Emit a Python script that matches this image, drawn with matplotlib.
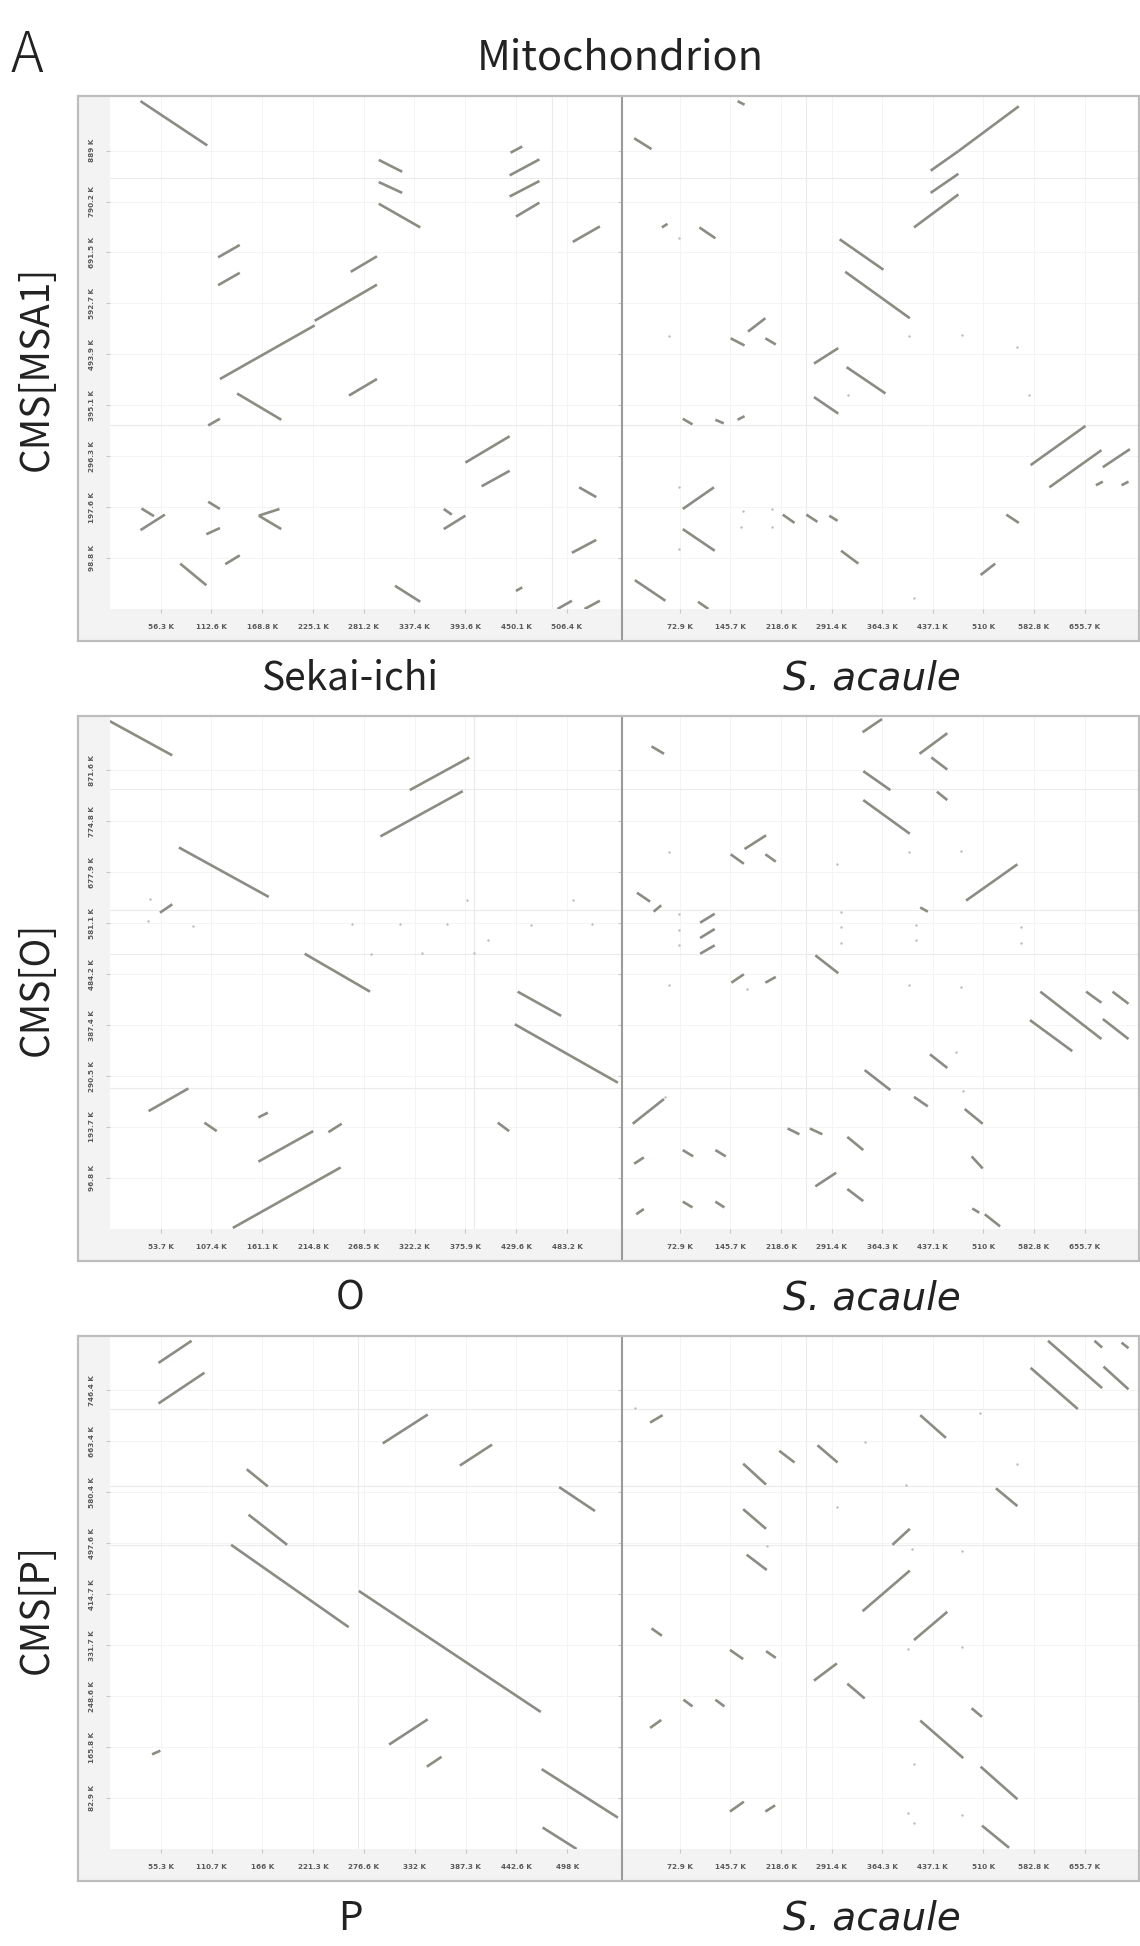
import matplotlib.pyplot as plt
from matplotlib.patches import Rectangle

W, H = 1140, 1946

# ---- tick values (K) ----
sekai_ticks = [56.3, 112.6, 168.8, 225.1, 281.2, 337.4, 393.6, 450.1, 506.4]
o_ticks = [53.7, 107.4, 161.1, 214.8, 268.5, 322.2, 375.9, 429.6, 483.2]
p_ticks = [55.3, 110.7, 166.0, 221.3, 276.6, 332.0, 387.3, 442.6, 498.0]
acaule_ticks = [72.9, 145.7, 218.6, 291.4, 364.3, 437.1, 510.0, 582.8, 655.7]
msa1_ticks = [98.8, 197.6, 296.3, 395.1, 493.9, 592.7, 691.5, 790.2, 889.0]
cmso_ticks = [96.8, 193.7, 290.5, 387.4, 484.2, 581.1, 677.9, 774.8, 871.6]
cmsp_ticks = [82.9, 165.8, 248.6, 331.7, 414.7, 497.6, 580.4, 663.4, 746.4]

# ---- alignments (x0, y0, x1, y1) in K ----
msa1_sekai = [
    (34, 985, 108, 899), (298, 871, 324, 848), (298, 828, 324, 807), (298, 786, 344, 740),
    (444, 885, 457, 897), (443, 841, 476, 872), (443, 800, 476, 830), (450, 761, 476, 788),
    (513, 712, 543, 742), (120, 682, 144, 706), (120, 628, 144, 652), (267, 654, 296, 684),
    (122, 446, 227, 550), (227, 559, 296, 629), (265, 414, 296, 446), (141, 418, 190, 367),
    (109, 356, 122, 369), (394, 284, 443, 335), (412, 238, 443, 268), (520, 236, 539, 217),
    (34, 153, 61, 183), (35, 195, 49, 180), (109, 208, 122, 194), (107, 145, 122, 157),
    (165, 181, 190, 155), (165, 181, 188, 194), (128, 87, 144, 104), (78, 88, 107, 46),
    (370, 155, 394, 181), (370, 194, 379, 183), (512, 109, 539, 134), (450, 35, 457, 42),
    (316, 45, 344, 14), (496, 0, 512, 16), (526, 0, 543, 16),
]
msa1_acaule = [
    (156, 985, 166, 978), (7, 913, 32, 892), (434, 850, 474, 888), (474, 888, 561, 975),
    (434, 807, 474, 844), (410, 740, 474, 804), (47, 740, 55, 747), (101, 740, 124, 719),
    (303, 717, 366, 658), (311, 654, 404, 564), (171, 538, 196, 564), (146, 525, 166, 511),
    (196, 525, 211, 513), (266, 476, 301, 506), (313, 469, 369, 418), (266, 411, 301, 379),
    (77, 369, 91, 358), (124, 367, 136, 360), (156, 367, 166, 374), (578, 279, 657, 355),
    (605, 236, 680, 308), (682, 275, 721, 310), (672, 240, 682, 247), (709, 240, 719, 247),
    (77, 194, 122, 236), (77, 155, 123, 113), (221, 183, 238, 167), (255, 183, 271, 169),
    (288, 181, 300, 171), (543, 183, 561, 167), (305, 113, 330, 88), (506, 66, 527, 88),
    (8, 56, 52, 16), (99, 14, 114, 0),
]
cmso_o = [
    (0, 965, 66, 900), (317, 834, 380, 896), (286, 746, 373, 832), (73, 725, 168, 631),
    (53, 601, 66, 617), (206, 523, 275, 451), (431, 451, 477, 405), (428, 389, 537, 278),
    (41, 224, 83, 267), (100, 202, 113, 186), (157, 212, 167, 221), (157, 128, 215, 186),
    (231, 184, 245, 200), (130, 2, 244, 117), (410, 202, 422, 186),
]
cmso_acaule = [
    (32, 917, 50, 903), (336, 944, 364, 969), (418, 903, 458, 942), (435, 896, 458, 873),
    (337, 870, 376, 834), (443, 831, 458, 815), (337, 815, 404, 751), (166, 722, 197, 748),
    (146, 712, 165, 694), (196, 712, 211, 698), (485, 624, 559, 693), (11, 639, 30, 622),
    (35, 603, 46, 615), (102, 582, 123, 599), (102, 553, 123, 570), (102, 523, 123, 539),
    (419, 611, 430, 603), (268, 520, 301, 486), (147, 468, 165, 484), (196, 468, 211, 479),
    (592, 451, 680, 361), (658, 451, 680, 430), (696, 451, 719, 428), (577, 397, 638, 338),
    (682, 399, 719, 361), (433, 332, 458, 306), (339, 302, 376, 264), (410, 251, 430, 233),
    (483, 228, 509, 200), (5, 200, 50, 247), (228, 191, 245, 180), (260, 191, 278, 180),
    (314, 175, 337, 150), (7, 124, 21, 136), (77, 150, 92, 138), (124, 150, 139, 138),
    (493, 138, 509, 115), (268, 81, 298, 107), (314, 76, 337, 53), (10, 28, 21, 38),
    (77, 52, 91, 41), (124, 52, 137, 41), (494, 39, 504, 31), (512, 28, 534, 5),
]
cmsp_p = [
    (53, 791, 89, 827), (53, 725, 103, 775), (297, 660, 346, 707), (381, 624, 416, 658),
    (149, 618, 172, 590), (489, 589, 528, 550), (151, 544, 193, 495), (132, 495, 260, 361),
    (271, 420, 469, 223), (304, 170, 346, 211), (345, 134, 361, 150), (46, 154, 55, 160),
    (470, 130, 553, 51), (471, 35, 508, 0),
]
cmsp_acaule = [
    (603, 827, 681, 750), (578, 783, 646, 716), (670, 827, 681, 816), (709, 824, 719, 815),
    (683, 785, 719, 748), (30, 694, 48, 706), (419, 706, 456, 669), (216, 648, 238, 629),
    (271, 657, 300, 629), (164, 627, 197, 593), (528, 587, 559, 558), (164, 553, 197, 521),
    (379, 495, 404, 521), (169, 479, 198, 454), (336, 387, 404, 453), (410, 340, 458, 386),
    (32, 359, 47, 347), (145, 324, 164, 309), (197, 322, 211, 311), (266, 274, 299, 302),
    (314, 269, 339, 245), (78, 243, 91, 232), (124, 243, 137, 232), (30, 197, 46, 210),
    (493, 229, 508, 215), (419, 209, 481, 148), (506, 134, 559, 81), (145, 61, 165, 77),
    (196, 61, 210, 71), (508, 38, 547, 2),
]

# short hits drawn as dots (x, y) in K
msa1_acaule_dots = [(57, 529), (403, 529), (479, 532), (558, 508), (575, 416), (315, 416),
                    (71, 719), (71, 236), (71, 116), (410, 21), (206, 194), (206, 160),
                    (164, 190), (161, 160)]
cmso_o_dots = [(43, 627), (378, 626), (489, 626), (40, 585), (88, 575), (256, 580),
               (307, 580), (356, 580), (400, 550), (445, 578), (510, 580), (276, 522),
               (330, 524), (385, 524)]
cmso_acaule_dots = [(57, 716), (403, 716), (478, 719), (71, 598), (71, 569), (71, 539),
                    (305, 603), (305, 573), (305, 544), (413, 578), (413, 549), (564, 573),
                    (564, 544), (57, 463), (403, 463), (478, 459), (169, 456), (470, 336),
                    (480, 262), (52, 251), (299, 693)]
cmsp_acaule_dots = [(340, 663), (505, 710), (559, 627), (399, 592), (299, 556), (198, 493),
                    (407, 489), (479, 485), (402, 325), (479, 329), (410, 139), (402, 59),
                    (410, 43), (479, 55), (8, 718)]

# sequence boundaries (K)
msa1_bounds, cmso_bounds, cmsp_bounds = [836, 356], [836, 606, 522, 267], [716, 590, 495]
sekai_bounds, o_bounds, p_bounds, acaule_bounds = [490], [385], [270], [255]

rows = [
    ("CMS[MSA1]", "Sekai-ichi", msa1_ticks, msa1_bounds, sekai_ticks, sekai_bounds,
     msa1_sekai, [], msa1_acaule, msa1_acaule_dots),
    ("CMS[O]", "O", cmso_ticks, cmso_bounds, o_ticks, o_bounds,
     cmso_o, cmso_o_dots, cmso_acaule, cmso_acaule_dots),
    ("CMS[P]", "P", cmsp_ticks, cmsp_bounds, p_ticks, p_bounds,
     cmsp_p, [], cmsp_acaule, cmsp_acaule_dots),
]

LINE = '#8c8c84'
JP = ['Noto Sans CJK JP', 'DejaVu Sans']
fig = plt.figure(figsize=(W / 100, H / 100), dpi=100)


def box(x0, y0, x1, y1):
    return [x0 / W, 1 - y1 / H, (x1 - x0) / W, (y1 - y0) / H]


def fmt(v):
    s = f'{v:.1f}'
    if s.endswith('.0'):
        s = s[:-2]
    return s + ' K'


def draw(ax, segs, dots, xt, yt, xlim, ylim, xb, yb, ylabels):
    ax.set_xlim(*xlim)
    ax.set_ylim(*ylim)
    ax.patch.set_alpha(0)
    for s in ax.spines.values():
        s.set_visible(False)
    ax.set_xticks(xt)
    ax.set_xticklabels([fmt(v) for v in xt], fontweight='bold')
    ax.set_yticks(yt)
    if ylabels:
        ax.set_yticklabels([fmt(v) for v in yt], rotation=90, va='center', fontweight='bold')
    else:
        ax.set_yticklabels([])
    ax.tick_params(length=3, color='#c8c8c8', labelsize=5.2, labelcolor='#5a5a5a', pad=8)
    ax.grid(color='#f4f4f4', lw=0.7)
    ax.set_axisbelow(True)
    for v in xb:
        ax.axvline(v, color='#ebebeb', lw=0.8, zorder=1)
    for v in yb:
        ax.axhline(v, color='#ebebeb', lw=0.8, zorder=1)
    for x0, y0, x1, y1 in segs:
        ax.plot([x0, x1], [y0, y1], color=LINE, lw=1.9, solid_capstyle='butt', zorder=3)
    if dots:
        ax.scatter([d[0] for d in dots], [d[1] for d in dots], s=3, color='#bcbcb4',
                   lw=0, zorder=2)


for r, (ylab, xlab, yt, yb, xt, xb, segs, dots, segs_r, dots_r) in enumerate(rows):
    off = 620 * r
    top, bot, band = 96 + off, 641 + off, 609 + off

    # panel frame: white plot area, light grey bands at left and bottom
    bg = fig.add_axes(box(78, top, 1139, bot))
    bg.set_xlim(78, 1139)
    bg.set_ylim(bot, top)
    bg.set_zorder(-1)
    bg.axis('off')
    bg.add_patch(Rectangle((78, band), 1139 - 78, bot - band, color='#f3f3f3', lw=0))
    bg.add_patch(Rectangle((78, top), 109.8 - 78, bot - top, color='#f3f3f3', lw=0))

    ystep = yt[0]
    ylim = (0, ystep * 10.07)
    axl = fig.add_axes(box(109.8, top, 622, band))
    draw(axl, segs, dots, xt, yt, (0, xt[0] * 10.08), ylim, xb, yb, True)
    axr = fig.add_axes(box(622, top, 1139, band))
    draw(axr, segs_r, dots_r, acaule_ticks, yt,
         (-0.144 * acaule_ticks[0], 10.07 * acaule_ticks[0]), ylim, acaule_bounds, yb, False)

    fig.patches.append(Rectangle((78 / W, 1 - bot / H), (1139 - 78) / W, (bot - top) / H,
                                 transform=fig.transFigure, fill=False, ec='#bdbdbd', lw=1.6,
                                 zorder=5))
    fig.lines.append(plt.Line2D([622 / W, 622 / W], [1 - top / H, 1 - bot / H],
                                transform=fig.transFigure, color='#9a9a9a', lw=1.5, zorder=5))

    fig.text(37 / W, 1 - (top + bot) / 2 / H, ylab, rotation=90, ha='center', va='center',
             fontsize=28, family=JP, color='#222222')
    fig.text(350 / W, 1 - (679 + off) / H, xlab, ha='center', va='center',
             fontsize=28, family=JP, color='#222222')
    fig.text(872 / W, 1 - (679 + off) / H, 'S. acaule', ha='center', va='center',
             fontsize=28, family=['DejaVu Sans'], style='italic', color='#222222')

fig.text(620 / W, 1 - 58 / H, 'Mitochondrion', ha='center', va='center', fontsize=30,
         family=JP, color='#222222')
fig.text(27 / W, 1 - 56 / H, 'A', ha='center', va='center', fontsize=40, family=JP,
         weight='light', color='#222222')

fig.savefig('out.png', dpi=100, facecolor='white')
